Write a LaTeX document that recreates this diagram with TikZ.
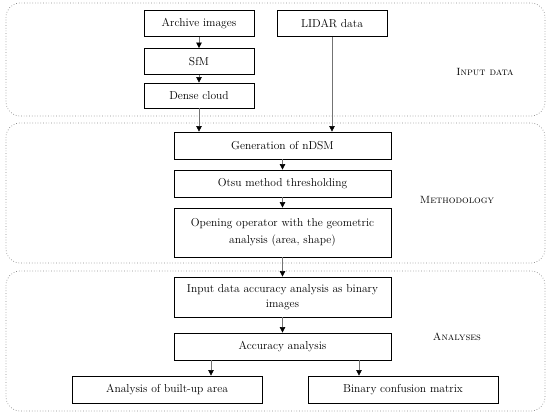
\documentclass[tikz,border=0pt]{standalone}
\usetikzlibrary{arrows.meta,calc}
\begin{document}
\begin{tikzpicture}[x=1pt,y=-1pt,
  box/.style={draw=black,line width=0.8pt,fill=white,minimum width=110pt,minimum height=26pt,inner sep=1pt,align=center,font=\fontsize{11.5}{15}\selectfont},
  wide/.style={box,minimum width=217pt},
  low/.style={box,minimum width=190pt},
  grp/.style={draw=black!45,dotted,line width=0.7pt,rounded corners=14pt},
  arr/.style={draw=black!55,line width=0.6pt,-{Triangle[length=5.5pt,width=5.5pt,color=black]}},
  lab/.style={font=\fontsize{10.5}{12}\selectfont}]
\useasboundingbox[fill=white] (0,0) rectangle (550,416);
% groups
\draw[grp] (6,3) rectangle (545,116);
\draw[grp] (6,123) rectangle (545,263);
\draw[grp] (6,271) rectangle (545,411);
\node[lab] (l1) at (485,72) {\textsc{Input data}};
\node[lab] (l2) at (457,200) {\textsc{Methodology}};
\node[lab] (l3) at (457,337) {\textsc{Analyses}};
% boxes
\node[box] (arch) at (199,23.5) {Archive images};
\node[box] (sfm) at (199,61.5) {SfM};
\node[box,minimum height=25pt] (dense) at (199,95.5) {Dense cloud};
\node[box] (lidar) at (332,23.5) {LIDAR data};
\node[wide,minimum height=27pt] (gen) at (282.5,145.5) {Generation of nDSM};
\node[wide,minimum height=27pt] (otsu) at (282.5,183.5) {Otsu method thresholding};
\node[wide,minimum height=49pt,font=\fontsize{11.5}{17.5}\selectfont] (open) at (282.5,232.5) {Opening operator with the geometric\\analysis (area, shape)};
\node[wide,minimum height=40pt] (inp) at (282.5,297) {Input data accuracy analysis as binary\\images};
\node[wide,minimum height=27pt] (acc) at (282.5,346.5) {Accuracy analysis};
\node[low,minimum height=27pt] (built) at (167,389.5) {Analysis of built-up area};
\node[low,minimum height=27pt] (conf) at (403,389.5) {Binary confusion matrix};
% arrows
\draw[arr] (arch) -- (sfm);
\draw[arr] (sfm) -- (dense);
\draw[arr] (dense.south) -- (dense.south |- gen.north);
\draw[arr] (lidar.south) -- (lidar.south |- gen.north);
\draw[arr] (gen) -- (otsu);
\draw[arr] (otsu) -- (open);
\draw[arr] (open) -- (inp);
\draw[arr] (inp) -- (acc);
\draw[arr] ([xshift=-71.5pt]acc.south) -- ([xshift=-71.5pt]acc.south |- built.north);
\draw[arr] ([xshift=76.5pt]acc.south) -- ([xshift=76.5pt]acc.south |- conf.north);
\end{tikzpicture}
\end{document}
